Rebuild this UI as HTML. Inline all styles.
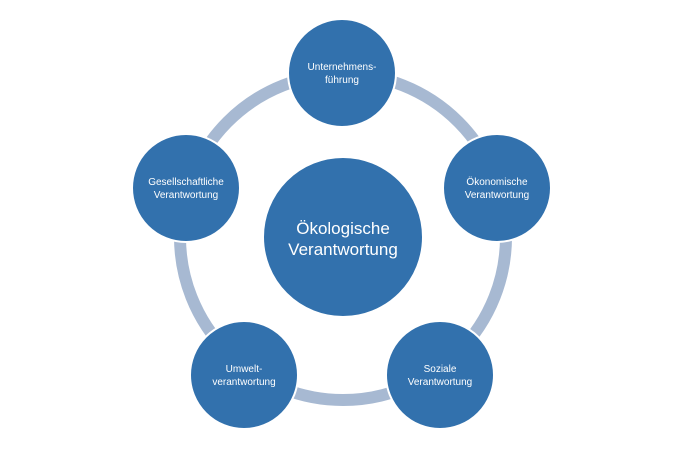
<!DOCTYPE html>
<html><head><style>body{margin:0;background:#fff}svg{display:block}</style></head><body>
<svg width="690" height="450" xmlns="http://www.w3.org/2000/svg" font-family="Liberation Sans, sans-serif">
<circle cx="343" cy="237" r="163" fill="none" stroke="#a7b9d2" stroke-width="12"/>
<g fill="#3271ad" stroke="#fff" stroke-width="2">
<circle cx="343" cy="237" r="80"/>
<circle cx="342" cy="73" r="54"/>
<circle cx="497" cy="188" r="54"/>
<circle cx="440" cy="375" r="54"/>
<circle cx="244" cy="375" r="54"/>
<circle cx="186" cy="188" r="54"/>
</g>
<g fill="#fff" text-anchor="middle" font-size="10">
<text x="342" y="70">Unternehmens-</text><text x="342" y="83">führung</text>
<text x="497" y="185">Ökonomische</text><text x="497" y="198">Verantwortung</text>
<text x="440" y="372">Soziale</text><text x="440" y="385">Verantwortung</text>
<text x="244" y="372">Umwelt-</text><text x="244" y="385">verantwortung</text>
<text x="186" y="185">Gesellschaftliche</text><text x="186" y="198">Verantwortung</text>
<text x="343" y="234" font-size="17">Ökologische</text><text x="343" y="255" font-size="17">Verantwortung</text>
</g>
</svg>
</body></html>
